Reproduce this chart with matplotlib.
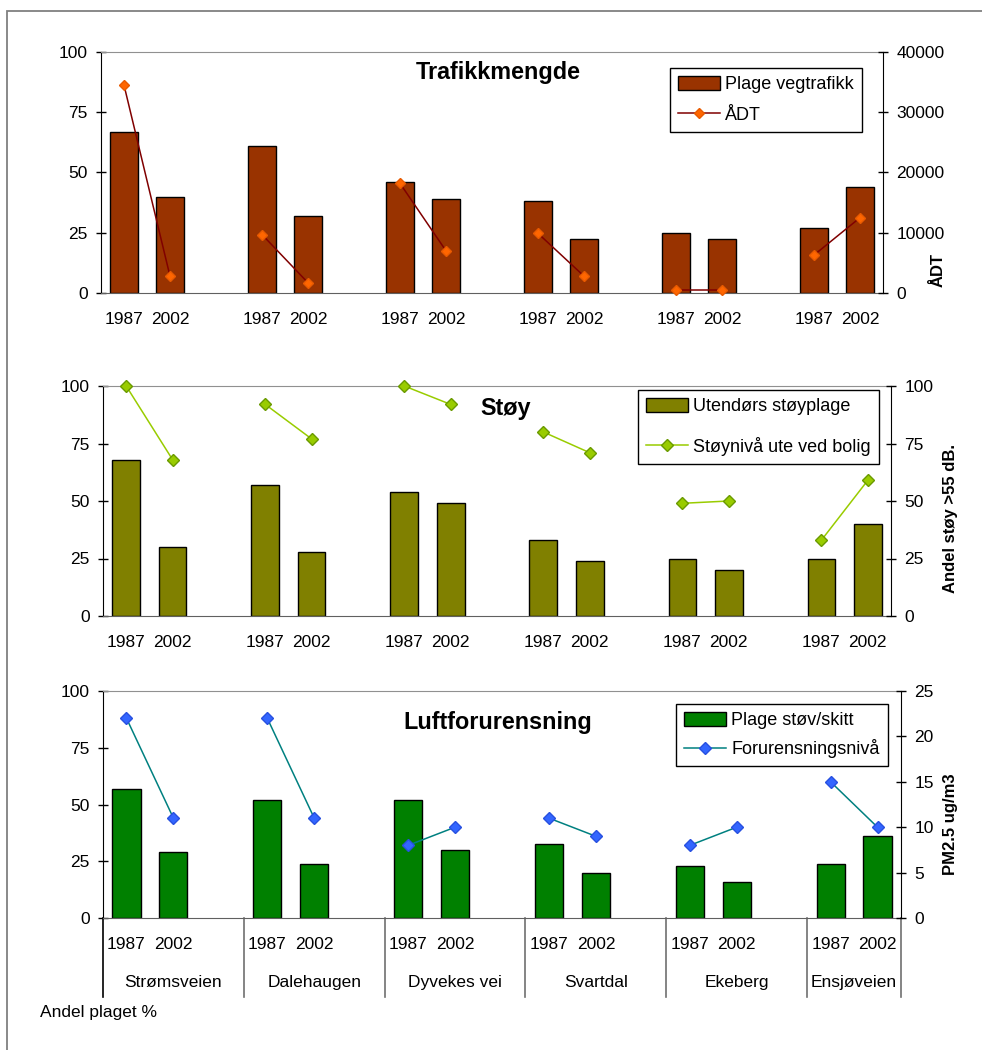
import numpy as np
import matplotlib
matplotlib.use("Agg")
import matplotlib.pyplot as plt
import matplotlib.transforms as mtransforms
from matplotlib.patches import Patch, Rectangle
from matplotlib.lines import Line2D

plt.rcParams['font.family'] = ['Liberation Sans', 'DejaVu Sans']

# ----------------------------------------------------------
# DATA
# ----------------------------------------------------------
steder = ["Strømsveien", "Dalehaugen", "Dyvekes vei", "Svartdal", "Ekeberg", "Ensjøveien"]
aar = ["1987", "2002"]

# Trafikkmengde
plage_trafikk_1987 = [67, 61, 46, 38, 25, 27]
plage_trafikk_2002 = [40, 32, 39, 22.5, 22.5, 44]
adt_1987 = [34500, 9700, 18200, 9900, 450, 6300]
adt_2002 = [2800, 1700, 7000, 2800, 450, 12500]

# Støy
stoy_plage_1987 = [68, 57, 54, 33, 25, 25]
stoy_plage_2002 = [30, 28, 49, 24, 20, 40]
stoy_niva_1987 = [100, 92, 100, 80, 49, 33]
stoy_niva_2002 = [68, 77, 92, 71, 50, 59]

# Luftforurensning
stov_plage_1987 = [57, 52, 52, 32.5, 23, 24]
stov_plage_2002 = [29, 24, 30, 20, 16, 36]
pm25_1987 = [22, 22, 8, 11, 8, 15]
pm25_2002 = [11, 11, 10, 9, 10, 10]

W, H = 982, 1050
fig = plt.figure(figsize=(W / 100, H / 100), dpi=100)


def rect(x0, x1, y0, y1):
    return [x0 / W, 1 - y1 / H, (x1 - x0) / W, (y1 - y0) / H]


x87 = np.arange(len(steder)) * 3
x02 = x87 + 1


def panel(box, b87, b02, l87, l02, bar_col, line_col, mfc, mec, msize,
          y2max, y2ticks, title, title_xy, labels, leg_xy, leg_spacing,
          ylab2, ylab2_xy):
    ax = fig.add_axes(rect(*box))
    ax.bar(x87, b87, width=0.6, color=bar_col, edgecolor="black", linewidth=1, zorder=2)
    ax.bar(x02, b02, width=0.6, color=bar_col, edgecolor="black", linewidth=1, zorder=2)
    ax.set_xlim(-0.5, 16.5)
    ax.set_ylim(0, 100)
    ax.set_yticks([0, 25, 50, 75, 100])
    ax.set_xticks(np.concatenate([x87, x02]))
    ax.set_xticklabels([aar[0]] * 6 + [aar[1]] * 6)
    ax.tick_params(axis="x", length=0, pad=14, labelsize=12.5)
    ax.tick_params(axis="y", direction="inout", length=7, width=1, pad=6, labelsize=12.5)
    ax.spines["top"].set_color("#909090")
    ax.spines["bottom"].set_color("#606060")
    ax.spines["right"].set_visible(False)
    ax.spines["left"].set_color("black")

    ax2 = ax.twinx()
    for i in range(len(steder)):
        ax2.plot([x87[i], x02[i]], [l87[i], l02[i]], color=line_col, lw=1.1,
                 marker="D", markersize=msize, markerfacecolor=mfc,
                 markeredgecolor=mec, clip_on=False, zorder=3)
    ax2.set_xlim(-0.5, 16.5)
    ax2.set_ylim(0, y2max)
    ax2.set_yticks(y2ticks)
    ax2.tick_params(axis="y", direction="inout", length=7, width=1, pad=6, labelsize=12.5)
    ax2.spines["right"].set_color("black")
    for s in ["top", "bottom", "left"]:
        ax2.spines[s].set_visible(False)

    fig.text(title_xy[0] / W, 1 - title_xy[1] / H, title, ha="center", va="center",
             fontsize=16.8, fontweight="bold")
    fig.text(ylab2_xy[0] / W, 1 - ylab2_xy[1] / H, ylab2, ha="center", va="center",
             rotation=90, fontsize=12, fontweight="bold")

    handles = [Patch(facecolor=bar_col, edgecolor="black", linewidth=1),
               Line2D([], [], color=line_col, lw=1.1, marker="D", markersize=msize,
                      markerfacecolor=mfc, markeredgecolor=mec)]
    leg = ax2.legend(handles, labels, loc="upper left",
                     bbox_to_anchor=(leg_xy[0] / W, 1 - leg_xy[1] / H),
                     bbox_transform=fig.transFigure, borderaxespad=0,
                     fancybox=False, framealpha=1, edgecolor="black",
                     fontsize=13, handlelength=2.3, handleheight=0.8,
                     handletextpad=0.3, labelspacing=leg_spacing,
                     borderpad=0.45)
    leg.get_frame().set_linewidth(1)
    return ax, ax2


panel((101, 883, 52, 293), plage_trafikk_1987, plage_trafikk_2002, adt_1987, adt_2002,
      "#993300", "#800000", "#FF6600", "#E85A00", 5,
      40000, [0, 10000, 20000, 30000, 40000],
      "Trafikkmengde", (498, 72), ["Plage vegtrafikk", "ÅDT"], (670, 68), 0.75,
      "ÅDT", (938, 270))

panel((103, 891, 386, 616), stoy_plage_1987, stoy_plage_2002, stoy_niva_1987, stoy_niva_2002,
      "#808000", "#99CC00", "#99CC00", "#6A9A00", 6.5,
      100, [0, 25, 50, 75, 100],
      "Støy", (506, 408), ["Utendørs støyplage", "Støynivå ute ved bolig"], (638, 390), 1.2,
      "Andel støy >55 dB.", (950, 518))

ax, ax2 = panel((103, 901, 691, 918), stov_plage_1987, stov_plage_2002, pm25_1987, pm25_2002,
                "#008000", "#008080", "#3366FF", "#2850E0", 6,
                25, [0, 5, 10, 15, 20, 25],
                "Luftforurensning", (498, 722), ["Plage støv/skitt", "Forurensningsnivå"], (676, 704), 0.55,
                "PM2.5 ug/m3", (951, 824))

# group dividers and place names under the bottom panel
trans = mtransforms.blended_transform_factory(ax.transData, ax.transAxes)
for xd in [2.5, 5.5, 8.5, 11.5, 14.5, 16.5]:
    ax.plot([xd, xd], [0, -0.35], color="#707070", lw=1.2, transform=trans, clip_on=False)
ax.plot([-0.5, -0.5], [0, -0.35], color="black", lw=1.2, transform=trans, clip_on=False)
for i, navn in enumerate(steder):
    cx = (x87[i] + x87[i] + 2) / 2 if i < 5 else (x87[i] + 16) / 2
    ax.text(cx, -0.286, navn, transform=trans, ha="center", va="center", fontsize=12.5)

fig.text(40 / W, 1 - 1013 / H, "Andel plaget %", ha="left", va="center", fontsize=12.5)

# outer chart frame
fig.patches.append(Rectangle((7 / W, -0.1), 1.2, 1.1 - 11 / H, transform=fig.transFigure,
                             fill=False, edgecolor="#808080", lw=1.3))

fig.savefig("out.png", dpi=100)
